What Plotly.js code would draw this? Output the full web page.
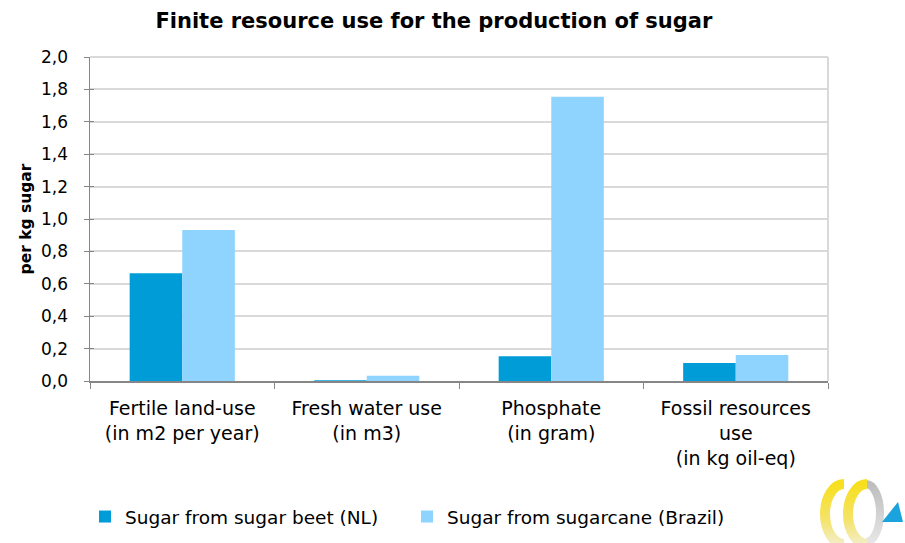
<!DOCTYPE html>
<html>
<head>
<meta charset="utf-8">
<script src="https://cdn.plot.ly/plotly-3.0.1.min.js"></script>
<style>html,body{margin:0;padding:0;background:#fff;}#chart{width:905px;height:543px;}</style>
</head>
<body>
<div id="chart"></div>
<script>
const categories = [
  "Fertile land-use<br>(in m2 per year)",
  "Fresh water use<br>(in m3)",
  "Phosphate<br>(in gram)",
  "Fossil resources<br>use<br>(in kg oil-eq)"
];
const beetName = "Sugar from sugar beet (NL)";
const caneName = "Sugar from sugarcane (Brazil)";
const beetValues = [0.665, 0.005, 0.153, 0.111];
const caneValues = [0.932, 0.033, 1.754, 0.161];
const yTickValues = [0, 0.2, 0.4, 0.6, 0.8, 1.0, 1.2, 1.4, 1.6, 1.8, 2.0];

const FONT = "DejaVu Sans, sans-serif";

const logoSvg = `<svg xmlns="http://www.w3.org/2000/svg" width="95" height="83" viewBox="0 0 95 83">
<defs>
<linearGradient id="yg" x1="0" y1="0" x2="0" y2="1">
<stop offset="0" stop-color="#f7df1e"/><stop offset="0.6" stop-color="#f5e36a"/><stop offset="1" stop-color="#f3eec8"/>
</linearGradient>
<linearGradient id="gg" x1="0" y1="0" x2="0" y2="1">
<stop offset="0" stop-color="#bdbdbd"/><stop offset="1" stop-color="#e6e6e6"/>
</linearGradient>
</defs>
<path d="M 56 24 A 14 29 0 0 1 56 82" fill="none" stroke="url(#gg)" stroke-width="8"/>
<path d="M 34 24 A 19 30 0 1 0 34 84" fill="none" stroke="url(#yg)" stroke-width="10"/>
<path d="M 57 24 A 19 30 0 1 0 57 84" fill="none" stroke="url(#yg)" stroke-width="10"/>
<polygon points="72,62 93,62 88,42" fill="#1aa3dd"/>
</svg>`;
const logoUri = "data:image/svg+xml;charset=utf-8," + encodeURIComponent(logoSvg);

const traces = [
  {
    type: "bar", name: beetName, x: categories, y: beetValues,
    marker: {color: "#009CD8"}
  },
  {
    type: "bar", name: caneName, x: categories, y: caneValues,
    marker: {color: "#8FD3FF"}
  },
  {
    type: "bar", x: categories, y: [null, null, null, null], yaxis: "y2",
    showlegend: false, hoverinfo: "skip"
  }
];

const layout = {
  width: 905, height: 543,
  margin: {l: 90, r: 77, t: 57, b: 162},
  paper_bgcolor: "#fff", plot_bgcolor: "#fff",
  separators: ",.",
  font: {family: FONT, size: 16, color: "#000"},
  title: {
    text: "<b>Finite resource use for the production of sugar</b>",
    font: {family: FONT, size: 21, color: "#000"},
    x: 0.466, xref: "paper", xanchor: "center",
    y: 0.962, yanchor: "middle"
  },
  barmode: "group",
  bargap: 0.43,
  bargroupgap: 0,
  xaxis: {
    type: "category",
    showline: true, linecolor: "#868686", linewidth: 1.5,
    ticks: "outside", tickson: "boundaries", ticklen: 6, tickcolor: "#868686",
    showgrid: false,
    tickfont: {family: FONT, size: 19, color: "#000"},
    ticklabelstandoff: 10
  },
  yaxis: {
    range: [0, 2.0],
    tickvals: yTickValues,
    tickformat: ".1f",
    showline: true, linecolor: "#868686", linewidth: 1.5,
    ticks: "outside", ticklen: 5, tickcolor: "#868686",
    showgrid: true, gridcolor: "#D9D9D9", gridwidth: 2,
    zeroline: false,
    tickfont: {family: FONT, size: 17, color: "#000"},
    ticklabelstandoff: 12,
    title: {text: "<b>per kg sugar</b>", font: {family: FONT, size: 15.5, color: "#000"}, standoff: 5}
  },
  yaxis2: {
    overlaying: "y", side: "left", range: [0, 2.0],
    tickvals: yTickValues, ticks: "inside", ticklen: 4, tickcolor: "#868686",
    showticklabels: false, showgrid: false, showline: false, zeroline: false
  },
  shapes: [
    {type: "line", xref: "paper", yref: "paper", x0: 1, x1: 1, y0: 0, y1: 1, line: {color: "#D9D9D9", width: 2}},
    {type: "line", xref: "paper", yref: "paper", x0: 0, x1: 1, y0: 1, y1: 1, line: {color: "#D9D9D9", width: 2}}
  ],
  legend: {
    orientation: "h",
    xref: "container", yref: "container",
    x: 85 / 905, xanchor: "left",
    y: 1 - 498 / 543, yanchor: "top",
    font: {family: FONT, size: 18.5, color: "#000"},
    entrywidth: 277, entrywidthmode: "pixels",
    itemwidth: 30,
    traceorder: "normal"
  },
  images: [
    {source: logoUri, xref: "paper", yref: "paper",
     x: (810 - 90) / 738, y: (381 - 460) / 324, sizex: 95 / 738, sizey: 83 / 324,
     xanchor: "left", yanchor: "top", sizing: "stretch", layer: "above"}
  ]
};

Plotly.newPlot("chart", traces, layout, {staticPlot: true, displayModeBar: false});
</script>
</body>
</html>
